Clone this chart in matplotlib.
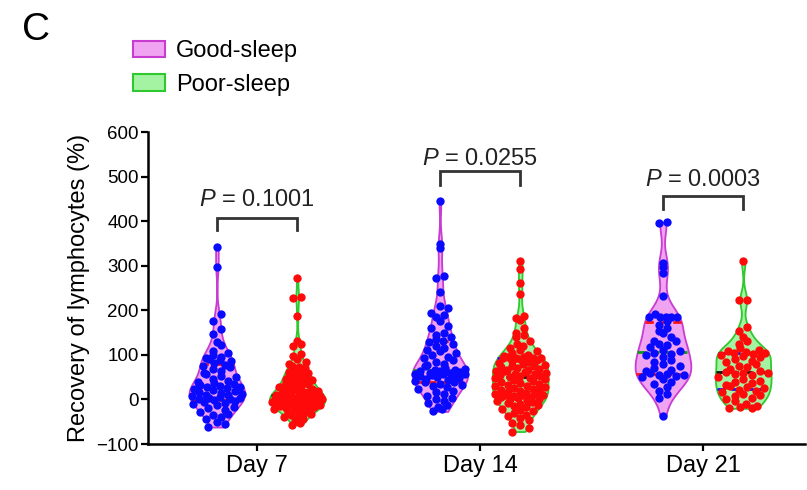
import numpy as np
import matplotlib
matplotlib.use("Agg")
import matplotlib.pyplot as plt
from matplotlib import mlab
from matplotlib.patches import Patch

plt.rcParams["font.family"] = "Liberation Sans"
plt.rcParams["mathtext.fontset"] = "custom"
plt.rcParams["mathtext.it"] = "Liberation Sans:italic"
plt.rcParams["mathtext.rm"] = "Liberation Sans"

days = ["Day 7", "Day 14", "Day 21"]
groups = ["Good-sleep", "Poor-sleep"]
p_values = ["0.1001", "0.0255", "0.0003"]

# recovery of lymphocytes (%)
good_d7 = [342, 298, 192, 176, 158, 146, 128, 122,
           108, 104, 100, 96, 94, 90, 88, 86,
           82, 78, 75, 72, 68, 64, 60, 56, 52, 50, 46, 42, 40, 36, 34, 32, 30,
           28, 27, 25, 23, 21, 19, 17, 15, 13, 11, 9, 7, 5, 4, 3, 2, 1,
           -2, -4, -6, -8, -10, -13, -16, -20, -24, -28, -32, -36, -40, -45, -50, -56, -62]
poor_d7 = [272, 230, 228, 187, 130, 125, 120, 102, 98, 90, 85, 80, 75, 72, 70, 68, 65,
           62, 60, 58, 56, 55, 54, 52, 50,
           48, 46, 44, 42, 40, 38, 36, 34, 32, 30, 28, 27, 26, 24, 22, 20, 19, 18, 17,
           16, 15, 14, 13, 12, 11,
           10, 9, 8, 7, 6, 5, 4, 3, 2, 1, 0, 0, -1, -2, -3, -4, -5, -5, -6, -6, -7, -7,
           -8, -8, -8,
           -9, -10, -11, -12, -13, -14, -15, -16, -18, -19, -20, -22, -24, -26, -28,
           -30, -32, -34, -36, -39, -42, -45, -48, -52, -57]
good_d14 = [445, 348, 340, 276, 273, 242, 209, 205, 195, 190, 184, 175, 164, 160, 150,
            145, 140, 135, 132,
            128, 125, 120, 116, 112, 108, 104, 100, 96, 92, 88, 84, 80, 77, 74, 71, 69, 67,
            66, 64, 63, 62, 60, 59, 58, 57, 56, 55, 54, 52, 50, 48, 46, 44, 42, 40,
            38, 35, 32, 30, 27, 24, 20, 16, 12, 8, 4, 0, -4, -8, -12, -17, -22, -27]
poor_d14 = [310, 292, 262, 236, 187, 183, 179, 160, 150, 145, 139, 130, 125, 120, 115,
            112, 108, 104, 100, 98, 96, 95, 94, 94, 94,
            92, 90, 88, 86, 84, 82, 80, 78, 76, 74, 72, 70, 68, 66, 65, 64, 63, 62, 60,
            58, 56, 55, 53, 52, 51,
            49, 47, 45, 43, 41, 39, 37, 35, 33, 31, 30, 28, 26, 24, 22, 20, 18, 17, 15,
            13, 12, 11, 10, 9, 8,
            6, 5, 4, 2, 0, -2, -4, -6, -8, -10, -12, -15, -18, -21, -24, -27, -30, -34,
            -38, -42, -47, -52, -58, -65, -72]
good_d21 = [397, 395, 307, 298, 283, 231, 192, 186, 185, 185, 184, 184,
            176, 168, 160, 153, 148, 140, 132, 130, 125, 122, 118, 112, 108,
            104, 102, 100, 95, 88, 85, 80, 74, 70, 67, 64, 60, 57,
            55, 54, 52, 50, 45, 38, 34, 28, 18, 12, 4, -38]
poor_d21 = [310, 224, 222, 162, 153, 140, 130, 125, 115, 110, 108, 106, 105, 105,
            103, 100, 98, 95, 90, 86, 84, 80, 76, 72, 68, 64, 61,
            60, 59, 58, 55, 50, 46, 42, 40, 37, 33, 30, 27, 25,
            22, 20, 16, 12, 10, 8, 4, 0, -4, -10, -15, -18, -20, -20]

good = [good_d7, good_d14, good_d21]
poor = [poor_d7, poor_d14, poor_d21]

# bracket heights (top, bottom) above each pair
brackets = [(408, 380), (512, 482), (456, 428)]
text_y = [433, 527, 478]

styles = [
    dict(face="#f0a3f0", edge="#c83cd2", dot="#0a0aff", quart="#ff1010", med="#109a10"),
    dict(face="#a3f3a3", edge="#2fc82f", dot="#ff0a0a", quart="#1010ff", med="#111111"),
]

BW = 0.3       # kde bandwidth factor
VW = 0.25      # violin full width (data units)
OFF = 0.18     # offset of each violin from the day centre
DOT = 8.5 / 223  # dot diameter in x data units

fig = plt.figure(figsize=(8.07, 4.9), dpi=100)
ax = fig.add_axes([148 / 807, 46 / 490, 657 / 807, 312 / 490])
ax.set_xlim(-0.489, 2.457)
ax.set_ylim(-100, 600)


def half_width(vals, y):
    v = np.asarray(vals, float)
    kde = mlab.GaussianKDE(v, BW)
    coords = np.linspace(v.min(), v.max(), 100)
    dens = kde.evaluate(coords)
    return np.interp(y, coords, dens) / dens.max() * VW / 2


def swarm_x(vals, center, step=17):
    v = np.asarray(vals, float)
    x = np.full(len(v), float(center))
    bins = np.floor((v - v.min()) / step).astype(int)
    for b in np.unique(bins):
        idx = np.where(bins == b)[0]
        idx = idx[np.argsort(v[idx])]
        n = len(idx)
        if n == 1:
            continue
        hw = half_width(vals, v[idx].mean())
        if n <= 3 or (n - 1) * DOT <= 2 * hw - 0.6 * DOT:
            sp = DOT
        else:
            sp = max((2 * hw - 0.6 * DOT) / (n - 1), 0.3 * DOT)
        pos = (np.arange(n) - (n - 1) / 2) * sp
        order = np.argsort((np.arange(n) * 0.618) % 1)
        x[idx[order]] = center + pos
    return x


for gi, data in enumerate([good, poor]):
    st = styles[gi]
    positions = [i + (2 * gi - 1) * OFF for i in range(len(days))]
    vp = ax.violinplot(data, positions=positions, widths=VW, bw_method=BW,
                       showextrema=False)
    for body in vp["bodies"]:
        body.set_facecolor(st["face"])
        body.set_edgecolor(st["edge"])
        body.set_linewidth(1.3)
        body.set_alpha(1)
        body.set_zorder(1)
    for pos, vals in zip(positions, data):
        q1, med, q3 = np.percentile(vals, [25, 50, 75])
        for q, c in [(q1, st["quart"]), (med, st["med"]), (q3, st["quart"])]:
            hw = half_width(vals, q)
            ax.plot([pos - hw, pos + hw], [q, q], color=c, lw=2,
                    ls=(0, (3, 2)), zorder=2)
        ax.scatter(swarm_x(vals, pos), vals, s=36, color=st["dot"],
                   linewidths=0, zorder=3)

# P-value brackets
for i, (p, (top, bot), ty) in enumerate(zip(p_values, brackets, text_y)):
    x1, x2 = i - OFF, i + OFF
    ax.plot([x1, x1, x2, x2], [bot, top, top, bot], color="#333333", lw=2,
            solid_joinstyle="miter", clip_on=False)
    ax.text(i, ty, r"$\it{P}$ = " + p, ha="center", va="baseline",
            fontsize=17, color="#222222")

for side in ["top", "right"]:
    ax.spines[side].set_visible(False)
for side in ["left", "bottom"]:
    ax.spines[side].set_linewidth(1.8)

ax.set_yticks(np.arange(-100, 601, 100))
ax.set_xticks(range(len(days)))
ax.set_xticklabels(days)
ax.tick_params(axis="y", length=5, width=1.6, pad=1.5, labelsize=13.5)
ax.tick_params(axis="x", length=5, width=1.6, pad=3, labelsize=17)
ax.set_ylabel("Recovery of lymphocytes (%)", fontsize=17)
ax.yaxis.set_label_coords(-0.088, 0.5)

handles = [Patch(facecolor=styles[k]["face"], edgecolor=styles[k]["edge"], lw=1.5)
           for k in range(2)]
fig.legend(handles, groups, loc="upper left", bbox_to_anchor=(133 / 807, 1 - 40 / 490),
           frameon=False, fontsize=17, handlelength=1.36, handleheight=0.68,
           handletextpad=0.47, labelspacing=0.5, borderpad=0, borderaxespad=0)

fig.text(22 / 807, 1 - 30 / 490, "C", fontsize=28, va="center", ha="left")

fig.savefig("out.png", dpi=100)
